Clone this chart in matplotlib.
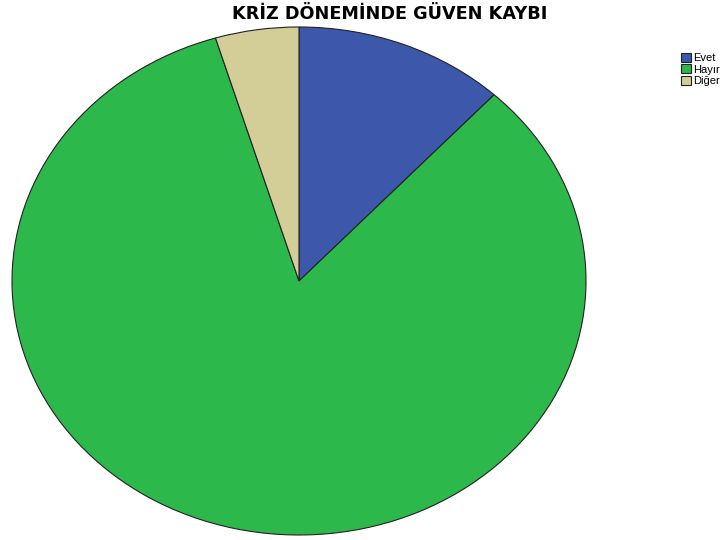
import matplotlib.pyplot as plt

# veriler
labels = ["Evet", "Hayır", "Diğer"]
values = [11.9, 83.4, 4.7]
colors = ["#3d58aa", "#2db84b", "#d3ce98"]

plt.rcParams['font.family'] = ['Liberation Sans', 'DejaVu Sans']

fig = plt.figure(figsize=(7.26, 5.4), dpi=100)
ax = fig.add_axes([12 / 726, 5 / 540, 574 / 726, 508 / 540])

wedges, _ = ax.pie(values, colors=colors, startangle=90, counterclock=False,
                   radius=1, wedgeprops=dict(edgecolor="#222222", linewidth=0.8))
ax.set_aspect("auto")
ax.set_xlim(-1, 1)
ax.set_ylim(-1, 1)
ax.axis("off")

# başlık (daha geniş yazı için DejaVu)
fig.text(390 / 726, 1 - 14 / 540, "KRİZ DÖNEMİNDE GÜVEN KAYBI",
         ha="center", va="center", fontsize=12.7, fontweight="bold",
         family=["DejaVu Sans"])

fig.legend(wedges, labels, loc="upper left", bbox_to_anchor=(675 / 726, 1 - 47 / 540),
           frameon=False, fontsize=8, handlelength=0.9, handleheight=0.9,
           handletextpad=0.25, labelspacing=0.1, borderpad=0)

fig.savefig("out.png", dpi=100)
